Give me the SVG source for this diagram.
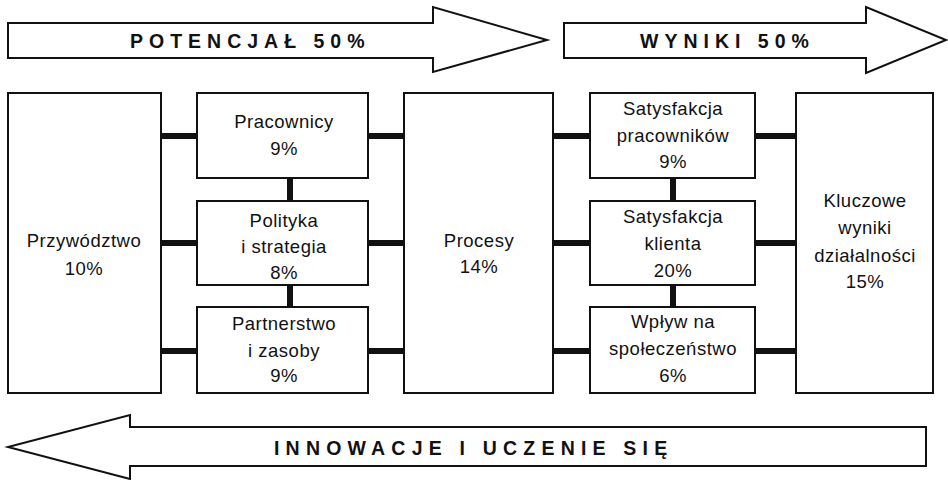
<svg xmlns="http://www.w3.org/2000/svg" width="948" height="480" viewBox="0 0 948 480">
<style>
.box{fill:#fff;stroke:#111;stroke-width:2}
.arr{fill:#fff;stroke:#111;stroke-width:2;stroke-linejoin:miter}
.t{font-family:"Liberation Sans",Arial,sans-serif;font-size:18.5px;letter-spacing:0.5px;fill:#111;text-anchor:middle}
.h{font-family:"Liberation Sans",Arial,sans-serif;font-size:19.5px;font-weight:bold;letter-spacing:6px;fill:#111}
.c{stroke:#111;stroke-width:6;fill:none}
</style>
<rect width="948" height="480" fill="#fff"/>
<g id="arrow-potencjal">
<polygon class="arr" points="8,23 433,23 433,7 547,40 433,72 433,58 8,58"/>
<text class="h" x="130" y="48">POTENCJAŁ 50%</text>
</g>
<g id="arrow-wyniki">
<polygon class="arr" points="564,23 866,23 866,7 946,40 866,73 866,58 564,58"/>
<text class="h" x="640" y="48">WYNIKI 50%</text>
</g>
<g id="arrow-innowacje">
<polygon class="arr" points="926,427 130,427 130,415 8,447 130,479 130,466 926,466"/>
<text class="h" x="274" y="455" style="letter-spacing:6.2px">INNOWACJE I UCZENIE SIĘ</text>
</g>
<g id="connectors">
<line class="c" x1="161" y1="136" x2="197" y2="136"/>
<line class="c" x1="368" y1="136" x2="404" y2="136"/>
<line class="c" x1="553" y1="136" x2="590" y2="136"/>
<line class="c" x1="755" y1="136" x2="796" y2="136"/>
<line class="c" x1="161" y1="243" x2="197" y2="243"/>
<line class="c" x1="368" y1="243" x2="404" y2="243"/>
<line class="c" x1="553" y1="243" x2="590" y2="243"/>
<line class="c" x1="755" y1="243" x2="796" y2="243"/>
<line class="c" x1="161" y1="351" x2="197" y2="351"/>
<line class="c" x1="368" y1="351" x2="404" y2="351"/>
<line class="c" x1="553" y1="351" x2="590" y2="351"/>
<line class="c" x1="755" y1="351" x2="796" y2="351"/>
<line class="c" x1="290" y1="178" x2="290" y2="201"/>
<line class="c" x1="290" y1="285" x2="290" y2="307"/>
<line class="c" x1="673" y1="178" x2="673" y2="201"/>
<line class="c" x1="673" y1="285" x2="673" y2="307"/>
</g>
<g id="przywodztwo">
<rect class="box" x="8" y="93" width="153" height="300"/>
<text class="t" x="84" y="247">Przywództwo</text>
<text class="t" x="84" y="275">10%</text>
</g>
<g id="pracownicy">
<rect class="box" x="197" y="93" width="171" height="85"/>
<text class="t" x="284" y="128">Pracownicy</text>
<text class="t" x="284" y="155">9%</text>
</g>
<g id="polityka">
<rect class="box" x="197" y="201" width="171" height="84"/>
<text class="t" x="284" y="227">Polityka</text>
<text class="t" x="284" y="253">i strategia</text>
<text class="t" x="284" y="279">8%</text>
</g>
<g id="partnerstwo">
<rect class="box" x="197" y="307" width="171" height="86"/>
<text class="t" x="284" y="330">Partnerstwo</text>
<text class="t" x="284" y="357">i zasoby</text>
<text class="t" x="284" y="382">9%</text>
</g>
<g id="procesy">
<rect class="box" x="404" y="93" width="149" height="300"/>
<text class="t" x="479" y="247">Procesy</text>
<text class="t" x="479" y="273">14%</text>
</g>
<g id="satysfakcja-pracownikow">
<rect class="box" x="590" y="93" width="165" height="85"/>
<text class="t" x="673" y="115">Satysfakcja</text>
<text class="t" x="673" y="142">pracowników</text>
<text class="t" x="673" y="168">9%</text>
</g>
<g id="satysfakcja-klienta">
<rect class="box" x="590" y="201" width="165" height="84"/>
<text class="t" x="673" y="223">Satysfakcja</text>
<text class="t" x="673" y="250">klienta</text>
<text class="t" x="673" y="277">20%</text>
</g>
<g id="wplyw">
<rect class="box" x="590" y="307" width="165" height="86"/>
<text class="t" x="673" y="328">Wpływ na</text>
<text class="t" x="673" y="355">społeczeństwo</text>
<text class="t" x="673" y="382">6%</text>
</g>
<g id="kluczowe">
<rect class="box" x="796" y="93" width="137" height="300"/>
<text class="t" x="865" y="207">Kluczowe</text>
<text class="t" x="865" y="234">wyniki</text>
<text class="t" x="865" y="262">działalności</text>
<text class="t" x="865" y="288">15%</text>
</g>
</svg>
